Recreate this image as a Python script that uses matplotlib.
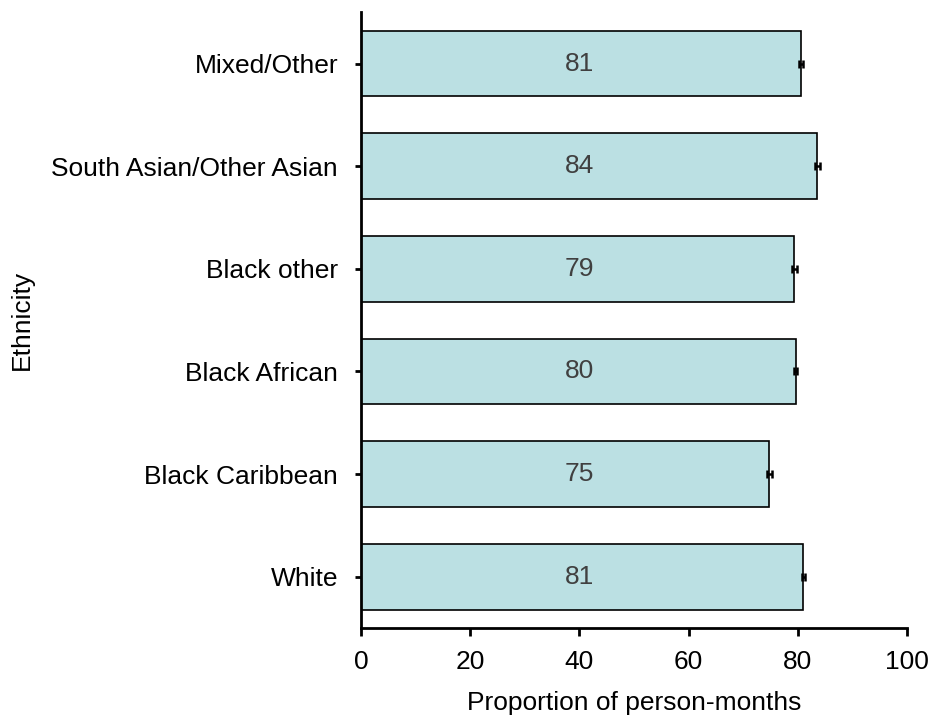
import matplotlib
matplotlib.use("Agg")
import matplotlib.pyplot as plt

plt.rcParams['font.family'] = ['Liberation Sans', 'DejaVu Sans']

categories = ["White", "Black Caribbean", "Black African", "Black other",
              "South Asian/Other Asian", "Mixed/Other"]
values = [81.0, 74.8, 79.6, 79.4, 83.6, 80.6]
errors = [0.3, 0.4, 0.2, 0.4, 0.4, 0.4]
xticks = [0, 20, 40, 60, 80, 100]

FS = 19

fig = plt.figure(figsize=(9.34, 7.17), dpi=100)
ax = fig.add_axes([0.3865, 0.124, 0.5845, 0.859])

ypos = list(range(len(categories)))
ax.barh(ypos, values, height=0.64, color="#BBE0E3", edgecolor="black",
        linewidth=1.2, xerr=errors,
        error_kw=dict(ecolor="black", elinewidth=1.8, capsize=3, capthick=1.8))

for y, v in zip(ypos, values):
    ax.text(40, y, f"{v:.0f}", ha="center", va="center", fontsize=FS, color="#404040")

ax.set_xlim(0, 100)
ax.set_ylim(-0.5, 5.5)
ax.set_xticks(xticks)
ax.set_yticks(ypos)
ax.set_yticklabels(categories, fontsize=FS)
ax.tick_params(axis="x", labelsize=FS, width=2, length=6, pad=10)
ax.tick_params(axis="y", width=2, length=4.5, pad=12)
for s in ["top", "right"]:
    ax.spines[s].set_visible(False)
for s in ["left", "bottom"]:
    ax.spines[s].set_linewidth(2)
ax.set_xlabel("Proportion of person-months", fontsize=FS, labelpad=12)
ax.set_ylabel("Ethnicity", fontsize=FS)
ax.yaxis.set_label_coords(-0.60, 0.5)

fig.savefig("out.png", dpi=100)
